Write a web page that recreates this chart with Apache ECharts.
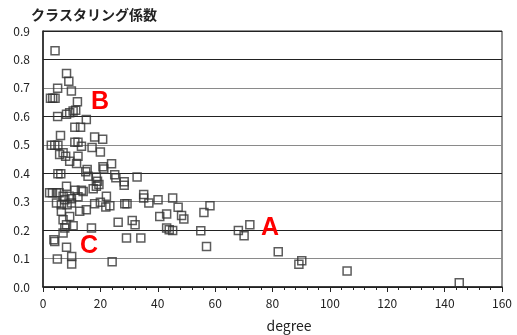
<!DOCTYPE html>
<html>
<head>
<meta charset="utf-8">
<script src="https://cdn.jsdelivr.net/npm/echarts@6/dist/echarts.min.js"></script>
<style>
  html, body { margin: 0; padding: 0; background: #fff; }
  #chart { width: 517px; height: 335px; }
</style>
</head>
<body>
<div id="chart"></div>
<script>
// Node degree vs. clustering coefficient
const degree = [
  4.2, 8.2, 9.0, 9.9, 5.1, 2.6, 3.4, 4.2, 12.0,
  8.2, 9.3, 10.5, 11.4, 5.1, 15.1, 11.1, 13.1, 6.1,
  18.0, 20.8, 2.9, 4.1, 5.2, 11.1, 12.2, 13.4, 17.1,
  20.0, 7.0, 5.8, 7.9, 12.2, 9.3, 11.7, 15.4, 20.9,
  23.9, 21.2, 5.2, 6.2, 14.9, 15.7, 18.6, 19.0, 19.5,
  25.0, 25.4, 28.3, 28.3, 32.8, 8.2, 11.1, 13.4, 17.5,
  18.6, 2.3, 3.3, 4.7, 5.6, 7.0, 9.1, 7.6, 9.9,
  12.2, 14.0, 22.1, 4.7, 6.4, 8.4, 9.9, 12.8, 15.1,
  18.0, 20.0, 21.9, 23.3, 28.5, 29.3, 35.1, 35.1, 36.9,
  40.1, 40.7, 6.4, 7.0, 9.3, 8.2, 10.5, 7.6, 16.9,
  26.2, 31.1, 32.1, 7.0, 3.8, 4.1, 29.1, 34.1, 8.2,
  5.0, 10.0, 10.0, 24.1, 45.2, 47.1, 43.1, 48.3, 49.1,
  56.1, 58.2, 43.1, 44.0, 45.2, 55.0, 68.1, 70.1, 72.1,
  57.0, 82.0, 89.2, 90.2, 106.0, 145.1
];
const clustering = [
  0.831, 0.751, 0.723, 0.689, 0.699, 0.664, 0.664, 0.664, 0.651,
  0.607, 0.613, 0.619, 0.621, 0.599, 0.589, 0.562, 0.562, 0.533,
  0.527, 0.519, 0.498, 0.498, 0.498, 0.509, 0.509, 0.495, 0.490,
  0.475, 0.472, 0.466, 0.460, 0.460, 0.442, 0.434, 0.413, 0.423,
  0.433, 0.415, 0.398, 0.398, 0.405, 0.389, 0.387, 0.372, 0.360,
  0.395, 0.384, 0.370, 0.358, 0.387, 0.354, 0.340, 0.340, 0.345,
  0.354, 0.331, 0.331, 0.331, 0.331, 0.319, 0.319, 0.307, 0.310,
  0.317, 0.336, 0.319, 0.295, 0.289, 0.289, 0.295, 0.266, 0.272,
  0.293, 0.298, 0.281, 0.286, 0.293, 0.293, 0.325, 0.313, 0.295,
  0.307, 0.248, 0.266, 0.236, 0.248, 0.219, 0.215, 0.207, 0.207,
  0.228, 0.234, 0.219, 0.190, 0.166, 0.160, 0.172, 0.172, 0.140,
  0.098, 0.107, 0.081, 0.089, 0.313, 0.280, 0.257, 0.251, 0.239,
  0.262, 0.286, 0.207, 0.201, 0.199, 0.198, 0.199, 0.180, 0.219,
  0.142, 0.124, 0.080, 0.092, 0.056, 0.015
];

const yTitle = 'クラスタリング係数';
const xTitle = 'degree';
const groupLabels = [
  { text: 'B', x: 100, y: 102 },
  { text: 'C', x: 89, y: 246 },
  { text: 'A', x: 270, y: 228 }
];

const points = degree.map((d, i) => [d, clustering[i]]);

const chart = echarts.init(document.getElementById('chart'), null, { renderer: 'canvas' });

const black = '#222';
const gray = '#8a8a8a';

chart.setOption({
  animation: false,
  backgroundColor: '#fff',
  title: {
    text: yTitle,
    left: 26,
    top: 3,
    textStyle: {
      fontFamily: 'Noto Sans CJK JP',
      fontSize: 14,
      fontWeight: 'bold',
      color: '#222'
    }
  },
  grid: {
    left: 43, right: 15, top: 31, bottom: 48,
    show: true,
    borderColor: black,
    borderWidth: 1,
    containLabel: false
  },
  xAxis: {
    type: 'value',
    min: 0, max: 160, interval: 20,
    axisLine: { show: true, onZero: false, lineStyle: { color: black, width: 1.5 } },
    axisTick: { show: true, inside: false, length: 5, lineStyle: { color: black } },
    minorTick: { show: true, splitNumber: 5, length: 3, lineStyle: { color: black } },
    splitLine: { show: false },
    axisLabel: {
      margin: 10,
      fontFamily: 'Noto Sans CJK JP',
      fontSize: 12,
      color: '#222'
    }
  },
  yAxis: {
    type: 'value',
    min: 0, max: 0.9, interval: 0.1,
    axisLine: { show: true, onZero: false, lineStyle: { color: black, width: 1.5 } },
    axisTick: { show: false },
    axisLabel: {
      margin: 13,
      fontFamily: 'Noto Sans CJK JP',
      fontSize: 12,
      color: '#222',
      formatter: v => v.toFixed(1)
    },
    splitLine: {
      show: true,
      lineStyle: {
        width: 1,
        color: [black, gray, black, gray, black, gray, black, gray, black, black]
      }
    }
  },
  series: [{
    type: 'scatter',
    data: points,
    symbol: 'rect',
    symbolSize: 8,
    itemStyle: {
      color: 'rgba(255,255,255,0)',
      borderColor: '#333',
      borderWidth: 1.5
    },
    z: 5
  }],
  graphic: [
    ...groupLabels.map(l => ({
      type: 'text',
      x: l.x, y: l.y,
      z: 10,
      style: {
        text: l.text,
        fill: '#ff0000',
        font: 'bold 25px "Liberation Sans", Arial, sans-serif',
        align: 'center',
        verticalAlign: 'middle'
      }
    })),
    {
      type: 'text',
      x: 289, y: 326,
      style: {
        text: xTitle,
        fill: '#222',
        font: '14px "Noto Sans CJK JP", sans-serif',
        align: 'center',
        verticalAlign: 'middle'
      }
    }
  ]
});
</script>
</body>
</html>
